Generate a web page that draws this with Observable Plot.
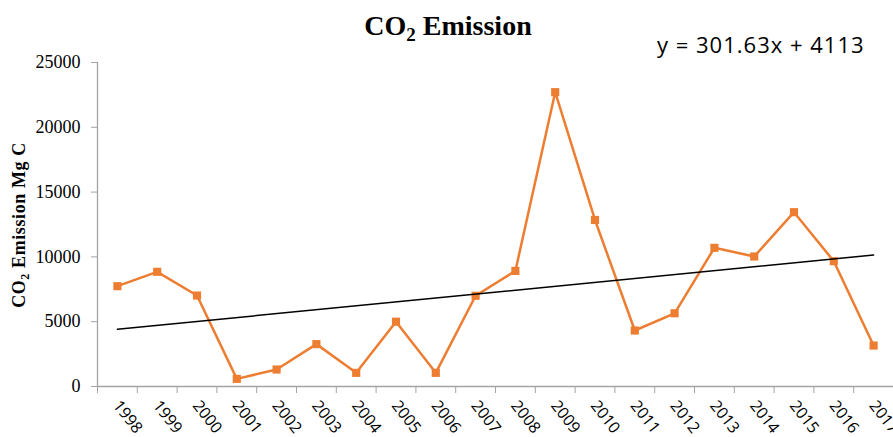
<!DOCTYPE html>
<html>
<head>
<meta charset="utf-8">
<script src="https://cdn.jsdelivr.net/npm/d3@7"></script>
<script src="https://cdn.jsdelivr.net/npm/@observablehq/plot@0.6"></script>
<style>
  html, body { margin: 0; padding: 0; background: #fff; }
  #chart { position: relative; width: 893px; height: 437px; overflow: hidden; }
</style>
</head>
<body>
<div id="chart"></div>
<script>
const years = [1998, 1999, 2000, 2001, 2002, 2003, 2004, 2005, 2006, 2007, 2008, 2009, 2010, 2011, 2012, 2013, 2014, 2015, 2016, 2017];
const emissions = [7740, 8850, 7020, 590, 1310, 3270, 1055, 5000, 1055, 7000, 8920, 22710, 12850, 4320, 5650, 10700, 10030, 13450, 9670, 3160];
const yTicks = [0, 5000, 10000, 15000, 20000, 25000];
const trendSlope = 301.63;
const trendIntercept = 4113;
const titleText = "CO";
const equationText = "y = 301.63x + 4113";

const data = years.map((year, i) => ({year, value: emissions[i]}));
const trend = [years[0], years[years.length - 1]].map(year => ({
  year, value: trendSlope * (year - years[0] + 1) + trendIntercept
}));
const boundaries = years.map(y => y - 0.5).concat([years[years.length - 1] + 0.5]);
const xDomain = [boundaries[0], boundaries[boundaries.length - 1]];

const gray = "#a3a3a3";
const orange = "#ED7D31";

const plot = Plot.plot({
  width: 893,
  height: 437,
  marginTop: 62,
  marginBottom: 51,
  marginLeft: 97,
  marginRight: 0,
  style: {background: "#fff", color: "#000"},
  x: {type: "linear", domain: xDomain},
  y: {domain: [0, 25000]},
  marks: [
    Plot.ruleX([xDomain[0]], {stroke: gray, strokeWidth: 1.3}),
    Plot.ruleY([0], {stroke: gray, strokeWidth: 1.3}),
    Plot.axisY({ticks: yTicks, tickSize: 6, tickPadding: 11, stroke: gray, fill: "#000",
      tickFormat: d => String(d), fontSize: 18, fontFamily: "Liberation Serif", label: null}),
    Plot.axisX({ticks: boundaries, tickSize: 7, stroke: gray, tickFormat: () => "", label: null}),
    Plot.axisX({ticks: years, tickSize: 0, tickPadding: 8, tickRotate: 52, textAnchor: "start",
      tickFormat: d => String(d), fontSize: 16, fontFamily: "Open Sans", fill: "#000", dx: -1, dy: 8, label: null}),
    Plot.line(data, {x: "year", y: "value", stroke: orange, strokeWidth: 2.5}),
    Plot.dot(data, {x: "year", y: "value", symbol: "square", fill: orange, r: 4.6}),
    Plot.line(trend, {x: "year", y: "value", stroke: "#000", strokeWidth: 1.5})
  ]
});

document.getElementById("chart").appendChild(plot);

const svg = d3.select(plot);
// title
const t = svg.append("text")
  .attr("x", 448).attr("y", 35)
  .attr("text-anchor", "middle")
  .attr("font-family", "Liberation Serif")
  .attr("font-weight", "bold")
  .attr("font-size", 28)
  .attr("fill", "#000");
t.append("tspan").text(titleText);
t.append("tspan").attr("font-size", 19).attr("dy", 6).text("2");
t.append("tspan").attr("dy", -6).text(" Emission");

// equation
svg.append("text")
  .attr("x", 657).attr("y", 53)
  .attr("text-anchor", "start")
  .attr("font-family", "Open Sans")
  .attr("font-size", 22)
  .attr("letter-spacing", 1)
  .attr("fill", "#000")
  .text(equationText);

// y label
const yl = svg.append("text")
  .attr("transform", "translate(25,225) rotate(-90)")
  .attr("text-anchor", "middle")
  .attr("font-family", "Liberation Serif")
  .attr("font-weight", "bold")
  .attr("font-size", 18)
  .attr("letter-spacing", 0.6)
  .attr("fill", "#000");
yl.append("tspan").text("CO");
yl.append("tspan").attr("font-size", 12).attr("dy", 4).text("2");
yl.append("tspan").attr("dy", -4).text(" Emission Mg C");
</script>
</body>
</html>
